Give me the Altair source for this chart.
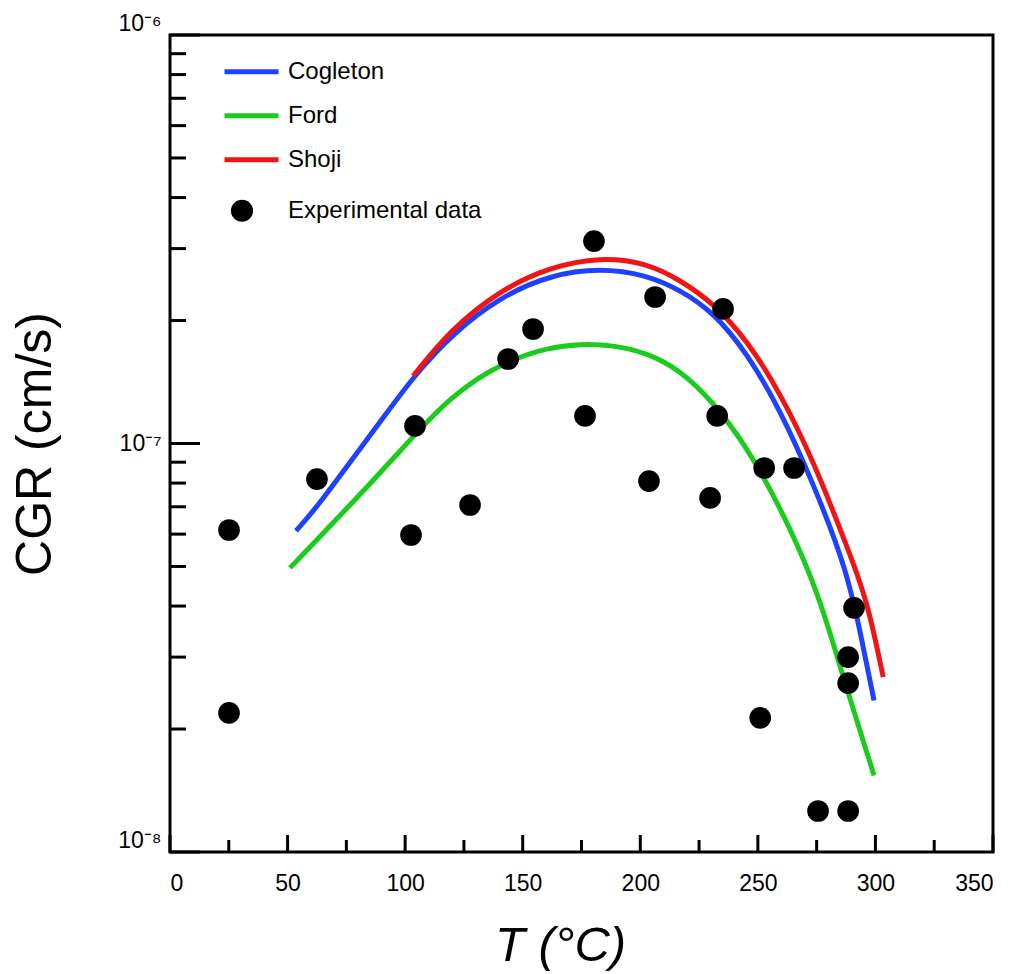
import altair as alt
import pandas as pd

# ---- data ----
cog_T = [53.6, 62.5, 76.6, 90.6, 103.4, 120.4, 140.4, 161.6, 182.9, 202.9, 216.9, 231.0, 245.4, 259.5, 273.5, 288.0, 294.8, 299.4]
cog_CGR = [6.11e-8, 6.99e-8, 9.01e-8, 1.154e-7, 1.455e-7, 1.864e-7, 2.284e-7, 2.585e-7, 2.689e-7, 2.585e-7,
           2.376e-7, 2.099e-7, 1.666e-7, 1.208e-7, 8.0e-8, 4.9e-8, 3.18e-8, 2.35e-8]

ford_T = [51.0, 69.3, 83.8, 102.1, 119.1, 140.4, 161.6, 174.4, 188.4, 202.9, 216.9, 231.0, 245.4, 259.5, 273.5, 280.7, 288.0, 299.4]
ford_CGR = [4.96e-8, 6.39e-8, 7.82e-8, 1.02e-7, 1.30e-7, 1.574e-7, 1.723e-7, 1.752e-7, 1.743e-7, 1.666e-7,
            1.513e-7, 1.263e-7, 9.80e-8, 6.99e-8, 4.63e-8, 3.44e-8, 2.49e-8, 1.54e-8]

shoji_T = [103.4, 119.1, 140.4, 161.6, 182.9, 202.9, 216.9, 231.0, 245.4, 259.5, 273.5, 288.0, 296.5, 303.3]
shoji_CGR = [1.463e-7, 1.896e-7, 2.376e-7, 2.704e-7, 2.861e-7, 2.766e-7, 2.513e-7, 2.208e-7, 1.792e-7,
             1.329e-7, 9.11e-8, 5.58e-8, 4.14e-8, 2.68e-8]

exp_T = [25.1, 25.1, 62.5, 102.5, 104.2, 127.6, 143.8, 154.4, 176.5, 180.3, 203.7, 206.3, 229.7, 232.7,
         235.2, 251.0, 252.7, 265.4, 275.6, 288.4, 288.4, 288.4, 290.9]
exp_CGR = [6.14e-8, 2.19e-8, 8.18e-8, 5.97e-8, 1.104e-7, 7.07e-8, 1.61e-7, 1.907e-7, 1.168e-7, 3.13e-7,
           8.09e-8, 2.284e-7, 7.36e-8, 1.168e-7, 2.135e-7, 2.13e-8, 8.71e-8, 8.71e-8, 1.26e-8, 1.26e-8,
           2.59e-8, 3.0e-8, 3.96e-8]

models = ["Cogleton", "Ford", "Shoji"]
model_colors = ["#1e40ff", "#1ccc1c", "#f01414"]

x_major = [0, 50, 100, 150, 200, 250, 300, 350]
x_minor = [25, 75, 125, 175, 225, 275, 325]
y_major = [1e-8, 1e-7, 1e-6]
y_minor = [2e-8, 3e-8, 4e-8, 5e-8, 6e-8, 7e-8, 8e-8, 9e-8,
           2e-7, 3e-7, 4e-7, 5e-7, 6e-7, 7e-7, 8e-7, 9e-7]

FONT = "Liberation Sans"
W, H = 823, 817

# ---- tables ----
lines_df = pd.concat([
    pd.DataFrame({"T": cog_T, "CGR": cog_CGR, "model": "Cogleton"}),
    pd.DataFrame({"T": ford_T, "CGR": ford_CGR, "model": "Ford"}),
    pd.DataFrame({"T": shoji_T, "CGR": shoji_CGR, "model": "Shoji"}),
], ignore_index=True)
exp_df = pd.DataFrame({"T": exp_T, "CGR": exp_CGR, "kind": "Experimental data"})

xscale = alt.Scale(domain=[0, 350], nice=False, zero=False)
yscale = alt.Scale(type="log", domain=[1e-8, 1e-6], nice=False)

x_axis = alt.Axis(
    values=x_major, ticks=False, domain=False, grid=False,
    labelFont=FONT, labelFontSize=23, labelColor="black", labelPadding=20, labelFlush=True,
    title="T (°C)", titleFont=FONT, titleFontSize=49, titleFontStyle="italic",
    titleFontWeight="normal", titleColor="black", titleX=390, titleY=108, titleBaseline="alphabetic",
)
y_axis = alt.Axis(
    values=y_major, ticks=False, domain=False, grid=False,
    labelExpr="datum.value >= 9e-7 ? '10⁻⁶' : (datum.value >= 9e-8 ? '10⁻⁷' : '10⁻⁸')",
    labelFont=FONT, labelFontSize=23, labelColor="black", labelPadding=9,
    labelBaseline={"condition": {"test": "datum.value >= 9e-7 || datum.value <= 1.1e-8", "value": "bottom"},
                   "value": "middle"},
    labelFlush=False,
    title="CGR (cm/s)", titleFont=FONT, titleFontSize=50, titleFontWeight="normal",
    titleColor="black", titleX=-120, titleBaseline="alphabetic",
)

lines = alt.Chart(lines_df).mark_line(strokeWidth=5, interpolate="basis").encode(
    x=alt.X("T:Q", scale=xscale, axis=x_axis),
    y=alt.Y("CGR:Q", scale=yscale, axis=y_axis),
    color=alt.Color("model:N", scale=alt.Scale(domain=models, range=model_colors),
                    legend=alt.Legend(orient="none", legendX=52, legendY=15, title=None,
                                      direction="vertical", symbolType="stroke", symbolSize=2916,
                                      symbolStrokeWidth=5, labelFont=FONT, labelFontSize=24,
                                      labelColor="black", labelOffset=7, labelLimit=0,
                                      clipHeight=43.5, rowPadding=0, padding=0)),
)

points = alt.Chart(exp_df).mark_point(filled=True, size=470, color="black", opacity=1).encode(
    x=alt.X("T:Q", scale=xscale),
    y=alt.Y("CGR:Q", scale=yscale),
    shape=alt.Shape("kind:N", scale=alt.Scale(domain=["Experimental data"], range=["circle"]),
                    legend=alt.Legend(orient="none", legendX=60, legendY=154, title=None,
                                      symbolSize=490, symbolFillColor="black", symbolStrokeColor="black",
                                      symbolStrokeWidth=0, labelFont=FONT, labelFontSize=24,
                                      labelColor="black", labelOffset=34, labelLimit=0,
                                      clipHeight=43.5, rowPadding=0, padding=0)),
)

xmaj_ticks = alt.Chart(pd.DataFrame({"T": x_major})).mark_rule(color="black", strokeWidth=3).encode(
    x=alt.X("T:Q", scale=xscale), y=alt.value(H), y2=alt.value(H - 17))
xmin_ticks = alt.Chart(pd.DataFrame({"T": x_minor})).mark_rule(color="black", strokeWidth=3).encode(
    x=alt.X("T:Q", scale=xscale), y=alt.value(H), y2=alt.value(H - 12))
ymaj_ticks = alt.Chart(pd.DataFrame({"CGR": y_major})).mark_rule(color="black", strokeWidth=3).encode(
    y=alt.Y("CGR:Q", scale=yscale), x=alt.value(0), x2=alt.value(30))
ymin_ticks = alt.Chart(pd.DataFrame({"CGR": y_minor})).mark_rule(color="black", strokeWidth=3).encode(
    y=alt.Y("CGR:Q", scale=yscale), x=alt.value(0), x2=alt.value(16))

chart = alt.layer(lines, points, xmaj_ticks, xmin_ticks, ymaj_ticks, ymin_ticks).properties(
    width=W, height=H,
    padding={"left": 170, "top": 35, "right": 31, "bottom": 122},
    autosize=alt.AutoSizeParams(type="none"),
    background="white",
).configure(font=FONT).configure_view(stroke="black", strokeWidth=3)

chart.save("out.html", embed_options={"renderer": "svg", "actions": False})
